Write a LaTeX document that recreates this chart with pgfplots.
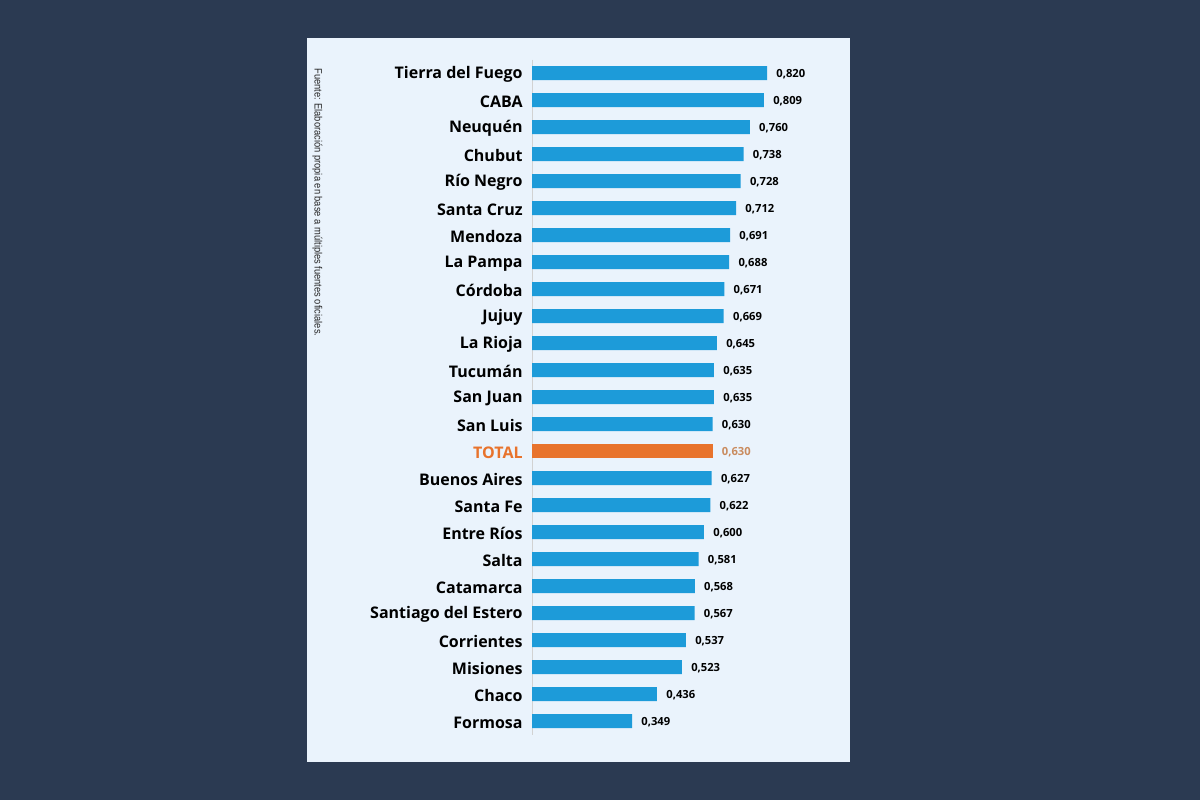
\documentclass[border=0pt]{standalone}
\usepackage{pgfplots}
\pgfplotsset{compat=1.18}
\usepackage{pgfplotstable}
\usepackage{fontspec}
\setmainfont{Open Sans}
\newfontfamily\srcfont[FakeStretch=0.88]{Liberation Sans}
\definecolor{bgnavy}{HTML}{2B3A52}
\definecolor{panel}{HTML}{EAF3FC}
\definecolor{barblue}{HTML}{1D9BD9}
\definecolor{totorange}{HTML}{E8732C}
\definecolor{totval}{HTML}{C98B5E}
\pgfplotstableread{
x y lab
0.820 0 0,820
0.809 1 0,809
0.760 2 0,760
0.738 3 0,738
0.728 4 0,728
0.712 5 0,712
0.691 6 0,691
0.688 7 0,688
0.671 8 0,671
0.669 9 0,669
0.645 10 0,645
0.635 11 0,635
0.635 12 0,635
0.630 13 0,630
0.627 15 0,627
0.622 16 0,622
0.600 17 0,600
0.581 18 0,581
0.568 19 0,568
0.567 20 0,567
0.537 21 0,537
0.523 22 0,523
0.436 23 0,436
0.349 24 0,349
}\provdata
\pgfplotstableread{
x y lab
0.630 14 0,630
}\totdata
\begin{document}
\begin{tikzpicture}
\fill[bgnavy] (0,0) rectangle (600pt,400pt);
\useasboundingbox (0,0) rectangle (600pt,400pt);
\fill[panel] (153.5pt,19pt) rectangle (425pt,381pt);
\node[rotate=-90, anchor=west, inner sep=0pt, font=\srcfont\fontsize{5.3}{6}\selectfont, text=black!85] at (158.75pt,366pt) {Fuente: Elaboración propia en base a múltiples fuentes oficiales.};
\begin{axis}[
  at={(266pt,32.75pt)}, anchor=south west, scale only axis,
  width=143.3pt, height=337.5pt,
  xmin=0, xmax=1, ymin=-0.5, ymax=24.5, y dir=reverse,
  xbar, bar width=7pt, bar shift=0pt,
  axis x line=none, axis y line*=left,
  y axis line style={draw=gray!35, line width=0.4pt, -},
  ytick={0,...,24}, major tick length=0pt,
  yticklabels={Tierra del Fuego, CABA, Neuquén, Chubut, Río Negro, Santa Cruz, Mendoza, La Pampa, Córdoba, Jujuy, La Rioja, Tucumán, San Juan, San Luis, \textcolor{totorange}{TOTAL}, Buenos Aires, Santa Fe, Entre Ríos, Salta, Catamarca, Santiago del Estero, Corrientes, Misiones, Chaco, Formosa},
  yticklabel style={font=\bfseries\fontsize{8}{9}\selectfont, text=black, inner xsep=0pt, xshift=-4.5pt, yshift=-0.8pt},
  clip=false,
  point meta=explicit symbolic,
  nodes near coords,
  every node near coord/.append style={font=\bfseries\fontsize{5.6}{7}\selectfont, anchor=west, inner xsep=0pt, xshift=4.5pt, yshift=-0.6pt},
]
\addplot[fill=barblue, draw=none] table[x=x, y=y, meta=lab] {\provdata};
\addplot[fill=totorange, draw=none, every node near coord/.append style={text=totval}] table[x=x, y=y, meta=lab] {\totdata};
\end{axis}
\end{tikzpicture}
\end{document}
